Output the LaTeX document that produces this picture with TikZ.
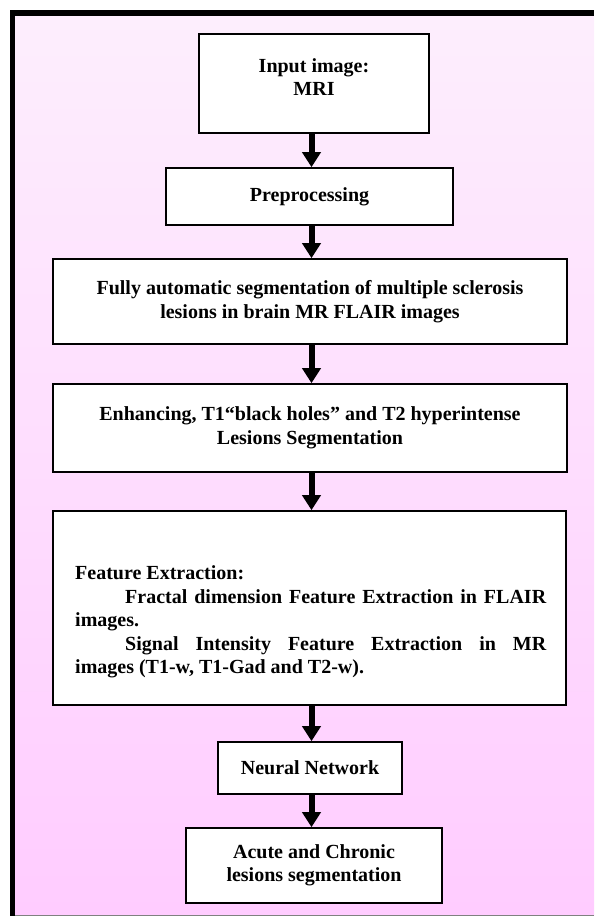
\documentclass[tikz,border=0pt]{standalone}
\usepackage{fontspec}
\setmainfont{Liberation Serif}
\usetikzlibrary{arrows.meta,calc}
\definecolor{pinktop}{RGB}{253,238,253}
\definecolor{pinkbot}{RGB}{255,204,255}
\begin{document}
\begin{tikzpicture}[x=1pt,y=-1pt,
  txt/.style={font=\bfseries\fontsize{20}{23.5}\selectfont},
  box/.style={txt, draw=black, line width=1.6pt, fill=white, inner sep=0pt, align=center},
  arr/.style={line width=6pt, -{Triangle[width=18pt,length=15pt]}}]
\useasboundingbox (0,0) rectangle (594,917);
% background and frame
\shade[top color=pinktop, bottom color=pinkbot] (15,16) rectangle (594,915);
\fill[black] (10,10) rectangle (594,16);
\fill[black] (10,10) rectangle (15,916);
\fill[gray] (15,915) rectangle (594,916);
\coordinate (spine) at (311.5,0);
% boxes
\node[box, minimum width=230pt, minimum height=99pt] (in) at (314,83.5) {};
\node[txt, align=center, anchor=base, inner sep=0pt] (intext) at (314,96) {Input image:\\MRI};
\node[box, minimum width=287pt, minimum height=57pt] (pre) at (309.5,196.5) {Preprocessing};
\node[box, minimum width=514pt, minimum height=85pt] (seg) at (310,301.5) {Fully automatic segmentation of multiple sclerosis\\lesions in brain MR FLAIR images};
\node[box, minimum width=514pt, minimum height=88pt] (enh) at (310,428) {Enhancing, T1“black holes” and T2 hyperintense\\Lesions Segmentation};
\node[box, minimum width=513pt, minimum height=194pt] (fe) at (309.5,608) {};
\node[txt, anchor=north west, inner sep=0pt, text width=471pt, align=justify] (fetext) at (75,565.7)
  {Feature Extraction:\par
   \hspace*{50pt}Fractal dimension Feature Extraction in FLAIR\linebreak images.\par
   \hspace*{50pt}Signal Intensity Feature Extraction in MR\linebreak images (T1-w, T1-Gad and T2-w).};
\node[box, minimum width=184pt, minimum height=52pt] (nn) at (310,768) {Neural Network};
\node[box, minimum width=256pt, minimum height=75pt] (out) at (314,865.5) {Acute and Chronic\\lesions segmentation};
% arrows
\draw[arr] (in.south -| spine) -- (pre.north -| spine);
\draw[arr] (pre.south -| spine) -- (seg.north -| spine);
\draw[arr] (seg.south -| spine) -- (enh.north -| spine);
\draw[arr] (enh.south -| spine) -- (fe.north -| spine);
\draw[arr] (fe.south -| spine) -- (nn.north -| spine);
\draw[arr] (nn.south -| spine) -- (out.north -| spine);
\end{tikzpicture}
\end{document}
